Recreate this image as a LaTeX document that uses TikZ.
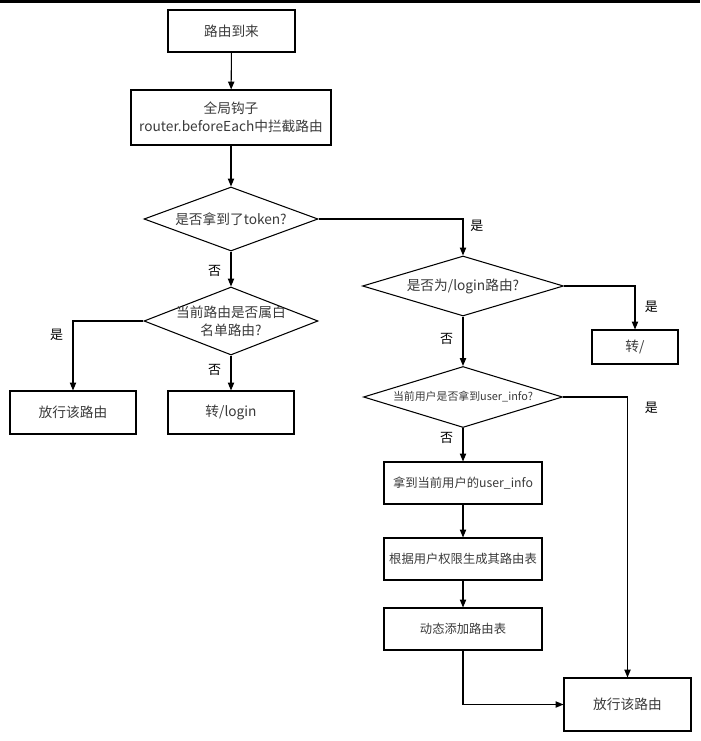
\documentclass[tikz,border=0pt]{standalone}
\usepackage{fontspec}
\setmainfont{Noto Sans CJK SC}
\usepackage{tikz}
\usetikzlibrary{arrows.meta,shapes.geometric}
\definecolor{txtgray}{HTML}{3A3A3A}
\newcommand{\boxfont}{\fontsize{7.8}{10.5}\selectfont}
\newcommand{\stepfont}{\fontsize{7}{9}\selectfont}
\newcommand{\smallboxfont}{\fontsize{6.2}{8}\selectfont}
\tikzset{
  procbox/.style={
    rectangle, draw=black, line width=0.6pt,
    minimum width=25.4mm, minimum height=8.4mm,
    font=\boxfont, text=txtgray, align=center, inner sep=1pt
  },
  stepbox/.style={procbox, minimum width=31.6mm, font=\stepfont},
  decision/.style={
    diamond, draw=black, line width=0.6pt, inner sep=0pt
  },
  decisiontext/.style={font=\boxfont, text=txtgray, align=center, inner sep=0pt},
  flow/.style={line width=0.6pt, -{Triangle[length=4.5pt,width=3.6pt]}},
  answer/.style={font=\fontsize{7.4}{9}\selectfont, text=black, inner sep=1pt}
}
\begin{document}
\begin{tikzpicture}
  \useasboundingbox (0,0) rectangle (14,-14.82);
  \fill[black] (0,0) rectangle (14,-0.06);

  % ==== entry ====
  \node[procbox] (arrive) at (4.63,-0.62) {路由到来};
  \node[procbox, minimum width=40mm, minimum height=11mm] (hook) at (4.62,-2.35)
    {全局钩子\\router.beforeEach中拦截路由};
  \node[decision, minimum width=34.8mm, minimum height=12.8mm,
    label={[decisiontext]center:是否拿到了token?}] (token) at (4.62,-4.38) {};

  % ==== no token (left) ====
  \node[decision, minimum width=34.8mm, minimum height=13.6mm,
    label={[decisiontext]center:当前路由是否属白\\名单路由?}] (white) at (4.62,-6.42) {};
  \node[procbox, minimum width=25.2mm, minimum height=8.6mm] (passA) at (1.46,-8.25) {放行该路由};
  \node[procbox, minimum width=25.2mm, minimum height=8.6mm] (tologin) at (4.62,-8.25) {转/login};

  % ==== has token (right) ====
  \node[decision, minimum width=40.2mm, minimum height=12mm,
    label={[decisiontext]center:是否为/login路由?}] (islogin) at (9.26,-5.72) {};
  \node[procbox, minimum width=17.2mm, minimum height=6.8mm] (toroot) at (12.7,-6.94) {转/};
  \node[decision, minimum width=39.8mm, minimum height=12.2mm,
    label={[decisiontext, font=\smallboxfont]center:当前用户是否拿到user\_info?}] (hasinfo) at (9.26,-7.94) {};
  \node[stepbox] (getinfo) at (9.26,-9.66) {拿到当前用户的user\_info};
  \node[stepbox] (gentable) at (9.26,-11.18) {根据用户权限生成其路由表};
  \node[stepbox] (addroutes) at (9.26,-12.58) {动态添加路由表};
  \node[procbox, minimum width=25.4mm, minimum height=10.6mm] (passB) at (12.55,-14.09) {放行该路由};

  % ==== connectors ====
  \draw[flow] (arrive) -- (hook);
  \draw[flow] (hook) -- (token);
  \draw[flow] (token.south) -- node[answer, pos=0.55, left=1.5mm] {否} (white.north);
  \draw[flow] (token.east) -| node[answer, pos=0.59, right=1mm] {是} (islogin.north);
  \draw[flow] (white.west) -| node[answer, pos=0.6, left=1.5mm] {是} (passA.north);
  \draw[flow] (white.south) -- node[answer, pos=0.4, left=1.5mm] {否} (tologin.north);
  \draw[flow] (islogin.east) -| node[answer, pos=0.74, right=1.5mm] {是} (toroot.north);
  \draw[flow] (islogin.south) -- node[answer, pos=0.45, left=1.5mm] {否} (hasinfo.north);
  \draw[flow] (hasinfo.east) -| node[answer, pos=0.52, right=3mm] {是} (passB.north);
  \draw[flow] (hasinfo.south) -- node[answer, pos=0.3, left=1.5mm] {否} (getinfo.north);
  \draw[flow] (getinfo) -- (gentable);
  \draw[flow] (gentable) -- (addroutes);
  \draw[flow] (addroutes.south) |- (passB.west);
\end{tikzpicture}
\end{document}
